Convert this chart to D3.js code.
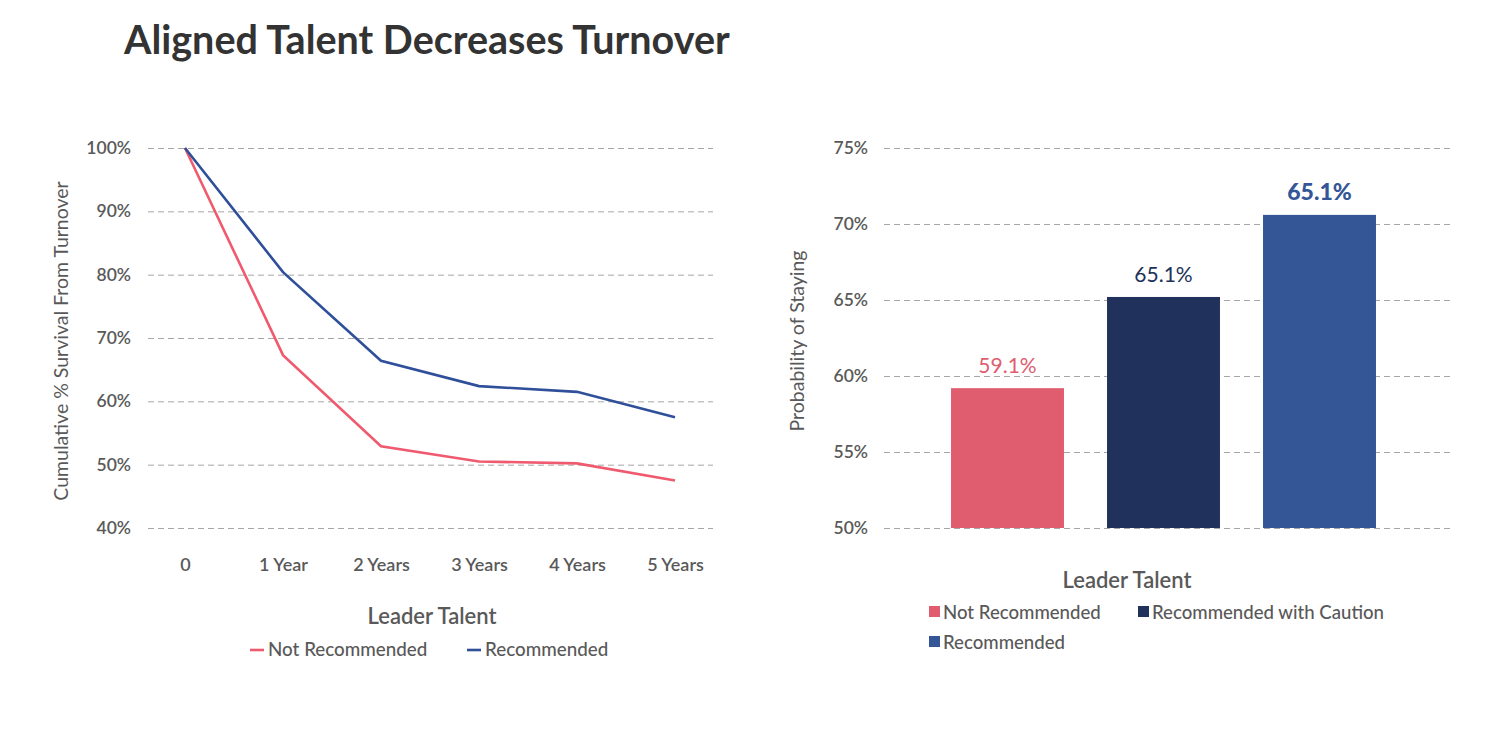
<!DOCTYPE html>
<html><head><meta charset="utf-8">
<script src="https://cdn.jsdelivr.net/npm/d3@7"></script>
<style>
body{margin:0;background:#fff;}
svg{display:block;}
</style></head>
<body><svg id="c" width="1506" height="729"></svg>
<script>
const title = "Aligned Talent Decreases Turnover";
// Left chart
const periods = ["0","1 Year","2 Years","3 Years","4 Years","5 Years"];
const notRecommended = [100, 67.3, 52.9, 50.5, 50.2, 47.5];
const recommended = [100, 80.4, 66.4, 62.4, 61.5, 57.5];
const leftTicks = [40,50,60,70,80,90,100];
const lineSeries = ["Not Recommended","Recommended"];
// Right chart
const barCategories = ["Not Recommended","Recommended with Caution","Recommended"];
const barValues = [59.2, 65.2, 70.6];
const barLabels = ["59.1%","65.1%","65.1%"];
const rightTicks = [50,55,60,65,70,75];

const svg = d3.select("#c");
const font = '"Lato","Noto Sans",sans-serif';
svg.style("font-family", font);
const red = "#ef5a6f", blue = "#2f4f9a";
const barColors = ["#e05d6f","#20315b","#345697"];
const labelWeights = [400,400,900];
const labelSizes = [21,21,23];
const grey = "#595959";

svg.append("text").attr("x",124).attr("y",54).text(title)
  .attr("font-size",39.5).attr("font-weight",700).attr("fill","#333");

// ---------- Left chart ----------
const yL = d3.scaleLinear().domain([40,100]).range([528,148]);
const xL = d3.scalePoint().domain(periods).range([185,675]);
const gL = svg.append("g");
const axL = gL.append("g").attr("transform","translate(148,0)")
  .call(d3.axisLeft(yL).tickValues(leftTicks).tickFormat(d=>d+"%").tickSize(-565).tickPadding(17));
axL.select(".domain").remove();
axL.selectAll(".tick line").attr("stroke","#a6a6a6").attr("stroke-dasharray","6,4");
axL.selectAll(".tick text").attr("font-size",17.5).attr("font-weight",600).attr("fill",grey).attr("font-family",font);
const axLx = gL.append("g").attr("transform","translate(0,548)")
  .call(d3.axisBottom(xL).tickSize(0).tickPadding(10));
axLx.select(".domain").remove();
axLx.selectAll(".tick text").attr("font-size",18).attr("font-weight",600).attr("fill",grey).attr("font-family",font);

const line = d3.line().x((d,i)=>xL(periods[i])).y(d=>yL(d));
[[notRecommended,red],[recommended,blue]].forEach(([s,c])=>{
  gL.append("path").datum(s).attr("d",line).attr("fill","none").attr("stroke",c).attr("stroke-width",2.6);
});
gL.append("text").attr("transform","translate(68,341) rotate(-90)").attr("text-anchor","middle")
  .attr("font-size",19.5).attr("fill",grey).text("Cumulative % Survival From Turnover");
gL.append("text").attr("x",432).attr("y",624).attr("text-anchor","middle")
  .attr("font-size",22).attr("font-weight",600).attr("fill",grey).text("Leader Talent");
const legL = [{x:250,c:red},{x:467,c:blue}];
lineSeries.forEach((n,i)=>{
  gL.append("line").attr("x1",legL[i].x).attr("x2",legL[i].x+14).attr("y1",650).attr("y2",650)
    .attr("stroke",legL[i].c).attr("stroke-width",2.6);
  gL.append("text").attr("x",legL[i].x+18).attr("y",656).attr("font-size",18.8).attr("font-weight",500)
    .attr("fill",grey).text(n);
});

// ---------- Right chart ----------
const yR = d3.scaleLinear().domain([50,75]).range([528,148]);
const xR = d3.scaleBand().domain(barCategories).range([929.5,1397.5]).paddingInner(0.276).paddingOuter(0.138);
const gR = svg.append("g");
const axR = gR.append("g").attr("transform","translate(884,0)")
  .call(d3.axisLeft(yR).tickValues(rightTicks).tickFormat(d=>d+"%").tickSize(-566).tickPadding(16));
axR.select(".domain").remove();
axR.selectAll(".tick line").attr("stroke","#a6a6a6").attr("stroke-dasharray","6,4");
axR.selectAll(".tick text").attr("font-size",17.5).attr("font-weight",600).attr("fill",grey).attr("font-family",font);

gR.selectAll("rect.bar").data(barValues).enter().append("rect")
  .attr("x",(d,i)=>xR(barCategories[i])).attr("width",xR.bandwidth())
  .attr("y",d=>yR(d)).attr("height",d=>yR(50)-yR(d)).attr("fill",(d,i)=>barColors[i]);
gR.selectAll("text.lbl").data(barValues).enter().append("text")
  .attr("x",(d,i)=>xR(barCategories[i])+xR.bandwidth()/2).attr("y",d=>yR(d)-15)
  .attr("text-anchor","middle").attr("font-size",(d,i)=>labelSizes[i]).attr("font-weight",(d,i)=>labelWeights[i])
  .attr("fill",(d,i)=>barColors[i]).text((d,i)=>barLabels[i]);
gR.append("text").attr("transform","translate(804,341) rotate(-90)").attr("text-anchor","middle")
  .attr("font-size",19.5).attr("fill",grey).text("Probability of Staying");
gR.append("text").attr("x",1127).attr("y",588).attr("text-anchor","middle")
  .attr("font-size",22).attr("font-weight",600).attr("fill",grey).text("Leader Talent");
const legR = [{x:929,y:613},{x:1138,y:613},{x:929,y:643}];
barCategories.forEach((n,i)=>{
  gR.append("rect").attr("x",legR[i].x).attr("y",legR[i].y-7).attr("width",11).attr("height",11).attr("fill",barColors[i]);
  gR.append("text").attr("x",legR[i].x+14).attr("y",legR[i].y+6).attr("font-size",18.6).attr("font-weight",500)
    .attr("fill",grey).text(n);
});
</script></body></html>
